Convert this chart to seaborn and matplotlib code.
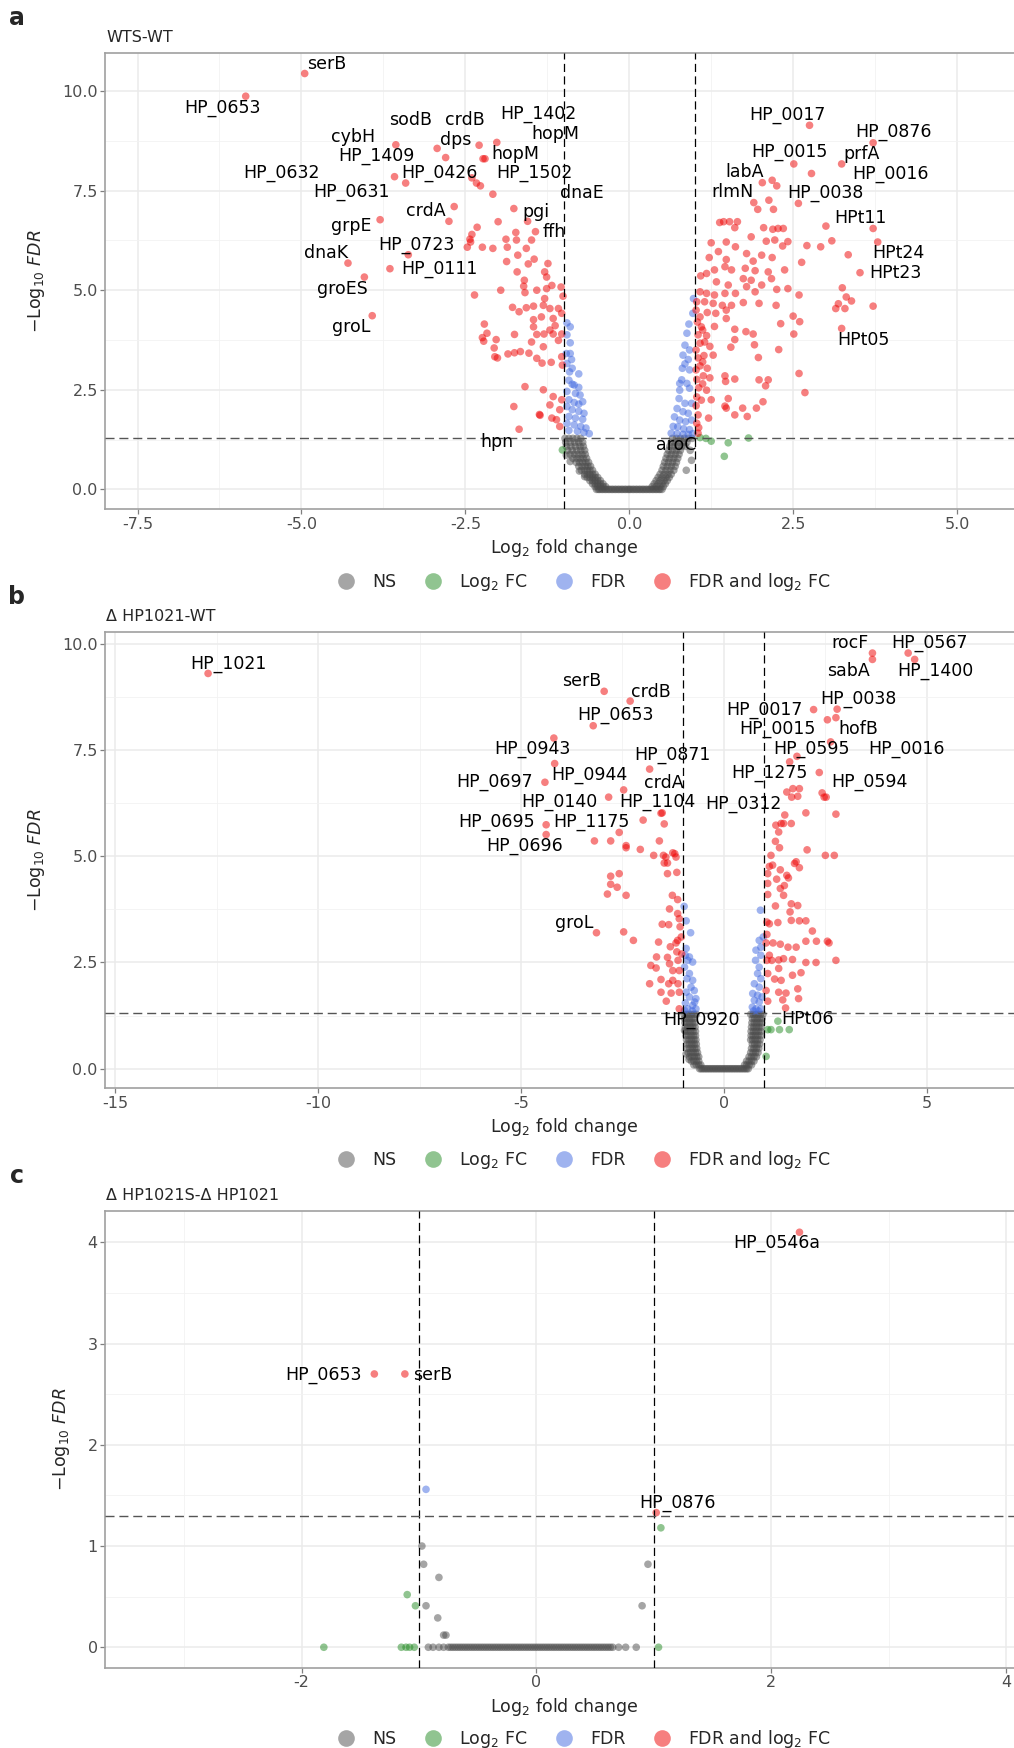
import numpy as np
import pandas as pd
import seaborn as sns
from matplotlib import pyplot as plt
from matplotlib.ticker import AutoMinorLocator

# ---------------- panel a : WTS-WT ----------------
a_ns = [
    (-0.98, 1.28), (-0.92, 1.28), (-0.86, 1.28), (-0.80, 1.28), (-0.74, 1.28),
    (-0.97, 1.18), (-0.90, 1.18), (-0.83, 1.18), (-0.77, 1.18), (-0.71, 1.18),
    (-0.96, 1.08), (-0.89, 1.08), (-0.82, 1.08), (-0.75, 1.08), (-0.70, 1.08),
    (-0.94, 0.98), (-0.87, 0.98), (-0.80, 0.98), (-0.74, 0.98), (-0.68, 0.98),
    (-0.90, 0.88), (-0.84, 0.88), (-0.78, 0.88), (-0.72, 0.88), (-0.67, 0.88),
    (-0.86, 0.78), (-0.80, 0.78), (-0.75, 0.78), (-0.70, 0.78), (-0.65, 0.78),
    (-0.81, 0.68), (-0.76, 0.68), (-0.71, 0.68), (-0.66, 0.68), (-0.62, 0.68),
    (-0.77, 0.58), (-0.72, 0.58), (-0.67, 0.58), (-0.63, 0.58), (-0.59, 0.58),
    (-0.73, 0.48), (-0.68, 0.48), (-0.64, 0.48), (-0.60, 0.48), (-0.56, 0.48),
    (-0.68, 0.38), (-0.64, 0.38), (-0.60, 0.38), (-0.56, 0.38), (-0.52, 0.38),
    (-0.64, 0.30), (-0.60, 0.30), (-0.56, 0.30), (-0.52, 0.30), (-0.48, 0.30),
    (-0.60, 0.22), (-0.56, 0.22), (-0.52, 0.22), (-0.48, 0.22), (-0.44, 0.22),
    (-0.56, 0.14), (-0.52, 0.14), (-0.48, 0.14), (-0.44, 0.14), (-0.40, 0.14),
    (-0.52, 0.07), (-0.48, 0.07), (-0.44, 0.07), (-0.40, 0.07), (-0.36, 0.07),
    (-0.96, 0.86), (-0.76, 0.46), (-0.68, 0.32), (-0.90, 0.70),
    (0.96, 1.28), (0.90, 1.28), (0.84, 1.28), (0.78, 1.28), (0.72, 1.28), (0.66, 1.28),
    (0.88, 1.18), (0.82, 1.18), (0.76, 1.18), (0.70, 1.18), (0.64, 1.18),
    (0.86, 1.08), (0.80, 1.08), (0.74, 1.08), (0.68, 1.08), (0.62, 1.08),
    (0.78, 0.98), (0.72, 0.98), (0.66, 0.98), (0.60, 0.98),
    (0.76, 0.88), (0.70, 0.88), (0.64, 0.88), (0.58, 0.88),
    (0.74, 0.78), (0.68, 0.78), (0.62, 0.78), (0.56, 0.78),
    (0.72, 0.68), (0.66, 0.68), (0.60, 0.68), (0.54, 0.68),
    (0.70, 0.58), (0.64, 0.58), (0.58, 0.58), (0.52, 0.58),
    (0.68, 0.48), (0.62, 0.48), (0.56, 0.48), (0.50, 0.48),
    (0.64, 0.38), (0.59, 0.38), (0.53, 0.38), (0.47, 0.38),
    (0.61, 0.30), (0.56, 0.30), (0.50, 0.30), (0.44, 0.30),
    (0.58, 0.22), (0.53, 0.22), (0.47, 0.22), (0.41, 0.22),
    (0.55, 0.14), (0.50, 0.14), (0.44, 0.14), (0.38, 0.14),
    (0.52, 0.07), (0.47, 0.07), (0.41, 0.07), (0.35, 0.07),
    (0.95, 0.73), (0.87, 0.48), (0.93, 0.98),
]
a_base_x = [-0.50, -0.47, -0.45, -0.42, -0.40, -0.37, -0.35, -0.32, -0.30, -0.27,
            -0.25, -0.22, -0.20, -0.17, -0.15, -0.12, -0.10, -0.07, -0.05, -0.02,
            0.00, 0.02, 0.05, 0.07, 0.10, 0.12, 0.15, 0.17, 0.20, 0.22,
            0.25, 0.27, 0.30, 0.32, 0.35, 0.37, 0.40, 0.42, 0.45, 0.47, 0.50]
a_fc = [(-1.02, 0.99), (1.08, 1.30), (1.17, 1.28), (1.25, 1.21), (1.51, 1.17),
        (1.82, 1.29), (1.45, 0.83)]
a_fdr = [
    (-0.95, 4.18), (-0.90, 4.08), (-0.95, 3.88), (-0.90, 3.68), (-0.96, 3.41),
    (-0.90, 3.41), (-0.88, 3.26), (-0.95, 3.16), (-0.87, 3.04), (-0.77, 2.90),
    (-0.91, 2.95), (-0.92, 2.74), (-0.84, 2.62), (-0.87, 2.64), (-0.77, 2.56),
    (-0.95, 2.46), (-0.82, 2.41), (-0.75, 2.37), (-0.92, 2.25), (-0.84, 2.18),
    (-0.77, 2.14), (-0.71, 2.20), (-0.95, 2.08), (-0.87, 2.00), (-0.77, 1.96),
    (-0.69, 1.91), (-0.92, 1.83), (-0.82, 1.79), (-0.71, 1.76), (-0.95, 1.66),
    (-0.84, 1.62), (-0.74, 1.58), (-0.66, 1.54), (-0.92, 1.48), (-0.79, 1.46),
    (-0.69, 1.43), (-0.61, 1.40),
    (0.98, 4.79), (0.97, 4.42), (0.91, 4.15), (0.88, 3.92), (0.85, 3.62),
    (0.92, 3.50), (0.82, 3.37), (0.90, 3.26), (0.85, 3.15), (0.81, 3.04),
    (0.92, 3.00), (0.80, 2.75), (0.88, 2.66), (0.77, 2.66), (0.77, 2.49),
    (0.92, 2.54), (0.76, 2.28), (0.85, 2.16), (0.95, 2.16), (0.73, 2.03),
    (0.82, 1.95), (0.90, 1.91), (0.69, 1.82), (0.77, 1.74), (0.86, 1.70),
    (0.95, 1.74), (0.67, 1.58), (0.74, 1.57), (0.83, 1.52), (0.92, 1.50),
    (0.64, 1.41), (0.73, 1.40), (0.82, 1.38), (0.90, 1.38), (0.97, 1.40),
]
a_both = [
    (-4.95, 10.44), (-5.85, 9.87), (-3.56, 8.65), (-2.93, 8.56), (-2.80, 8.33),
    (-2.29, 8.64), (-2.02, 8.71), (-2.23, 8.30), (-2.20, 8.30), (-3.58, 7.85),
    (-3.41, 7.69), (-2.40, 7.82), (-2.33, 7.69), (-2.27, 7.62), (-2.08, 7.41),
    (-1.76, 7.05), (-1.55, 6.73), (-1.43, 6.47), (-2.67, 7.10), (-2.75, 6.73),
    (-3.80, 6.77), (-3.37, 5.89), (-3.65, 5.54), (-4.29, 5.68), (-4.04, 5.33),
    (-3.92, 4.36),
    (-2.32, 6.58), (-2.00, 6.72), (-1.73, 6.45), (-2.40, 6.40), (-2.43, 6.28),
    (-2.47, 6.08), (-2.24, 6.08), (-2.08, 6.05), (-1.88, 6.28), (-1.72, 6.26),
    (-1.86, 6.08), (-1.70, 5.88), (-1.57, 6.05), (-1.49, 6.26), (-1.45, 5.78),
    (-1.54, 5.66), (-1.87, 5.72), (-1.71, 5.46), (-1.24, 5.67), (-1.29, 5.46),
    (-1.26, 5.33), (-1.18, 5.12), (-1.04, 5.08), (-1.60, 5.25), (-1.61, 5.10),
    (-1.41, 5.00), (-1.26, 5.04), (-1.59, 4.94), (-2.36, 4.88), (-1.01, 4.85),
    (-1.29, 4.79), (-1.78, 4.57), (-1.57, 4.56), (-1.46, 4.60), (-1.31, 4.62),
    (-1.21, 4.54), (-1.08, 4.54), (-1.03, 4.42), (-1.68, 4.46), (-1.46, 4.26),
    (-1.34, 4.33), (-1.16, 4.29), (-2.21, 4.15), (-1.46, 4.08), (-1.13, 4.11),
    (-2.17, 3.92), (-1.75, 3.89), (-1.41, 3.89), (-1.30, 3.90), (-1.16, 3.90),
    (-1.03, 3.90), (-1.21, 4.00), (-2.03, 3.76), (-1.49, 3.70), (-1.08, 3.74),
    (-1.31, 3.58), (-1.85, 3.40), (-1.75, 3.43), (-1.66, 3.46), (-1.53, 3.42),
    (-1.41, 3.29), (-1.33, 3.17), (-1.19, 3.19), (-2.01, 3.30), (-1.03, 3.33),
    (-1.02, 3.12), (-1.59, 2.58), (-1.31, 2.50), (-1.16, 2.33), (-1.03, 2.25),
    (-1.21, 2.12), (-1.76, 2.08), (-1.06, 2.00), (-1.37, 1.88), (-1.18, 1.79),
    (-1.06, 1.58), (-1.68, 1.51), (-1.11, 1.75), (-1.96, 5.00), (-2.24, 3.81),
    (-2.22, 3.72), (-2.06, 3.55), (-2.05, 3.33), (-1.36, 1.86), (-2.42, 6.21),
    (2.75, 9.14), (3.72, 8.70), (2.51, 8.17), (3.24, 8.17), (2.78, 7.93),
    (2.03, 7.70), (2.18, 7.76), (2.25, 7.62), (1.90, 7.20), (1.96, 7.03),
    (2.13, 7.26), (2.20, 7.03), (2.58, 7.18), (3.00, 6.61), (3.72, 6.55),
    (3.79, 6.21), (3.34, 5.89), (3.52, 5.44), (3.24, 4.04),
    (1.38, 6.70), (1.44, 6.72), (1.53, 6.72), (1.65, 6.72), (1.61, 6.57),
    (2.05, 6.57), (2.19, 6.53), (2.27, 6.55), (2.35, 6.55), (1.86, 6.34),
    (2.09, 6.23), (2.22, 6.26), (2.34, 6.11), (2.42, 6.22), (2.71, 6.12),
    (2.92, 6.09), (3.09, 6.24), (1.25, 6.19), (1.48, 6.21), (1.62, 6.09),
    (1.36, 5.97), (1.79, 5.92), (1.89, 5.73), (2.02, 5.88), (2.18, 5.82),
    (2.63, 5.70), (1.22, 5.82), (1.48, 5.77), (1.46, 5.59), (1.30, 5.51),
    (1.18, 5.42), (1.09, 5.36), (1.56, 5.51), (1.77, 5.55), (1.92, 5.49),
    (2.12, 5.46), (2.37, 5.51), (1.74, 5.29), (1.86, 5.25), (2.02, 5.13),
    (2.17, 5.29), (1.79, 5.09), (1.51, 5.13), (1.33, 5.21), (1.08, 4.96),
    (1.18, 4.92), (1.30, 4.88), (1.46, 4.92), (1.62, 4.92), (1.92, 4.96),
    (2.25, 5.02), (2.42, 5.04), (2.59, 4.88), (3.25, 5.06), (3.31, 4.83),
    (3.39, 4.73), (3.19, 4.66), (3.29, 4.54), (3.15, 4.54), (3.72, 4.60),
    (1.03, 4.71), (1.15, 4.71), (1.28, 4.67), (1.42, 4.62), (1.56, 4.62),
    (1.74, 4.69), (1.98, 4.67), (2.24, 4.62), (1.19, 4.44), (1.32, 4.42),
    (1.48, 4.50), (1.48, 4.29), (1.08, 4.33), (2.50, 4.35), (2.31, 4.16),
    (2.60, 4.21), (1.10, 4.08), (1.30, 4.09), (1.61, 4.02), (1.78, 3.96),
    (1.89, 3.90), (2.51, 3.90), (1.05, 3.88), (1.18, 3.86), (1.08, 3.67),
    (1.23, 3.59), (1.61, 3.76), (1.91, 3.63), (1.55, 3.57), (2.28, 3.51),
    (1.14, 3.36), (1.28, 3.37), (1.97, 3.31), (1.08, 3.10), (1.19, 3.04),
    (1.03, 2.76), (1.13, 2.85), (1.23, 2.80), (1.46, 2.85), (1.61, 2.77),
    (1.47, 2.71), (1.98, 2.75), (2.12, 2.75), (2.08, 2.60), (2.59, 2.91),
    (2.68, 2.43), (1.03, 2.32), (1.18, 2.49), (1.10, 2.24), (1.25, 2.25),
    (1.51, 2.28), (2.04, 2.20), (1.94, 2.04), (1.46, 2.09), (1.48, 2.04),
    (1.73, 2.04), (1.80, 1.83), (1.61, 1.87), (1.21, 1.79), (1.05, 1.87),
    (1.05, 1.41), (1.03, 1.66), (1.02, 4.50), (1.04, 4.20), (1.02, 3.50),
    (1.05, 3.30), (1.02, 3.00), (1.06, 2.55), (1.02, 2.10), (1.12, 4.00),
    (1.15, 3.70), (1.12, 3.20), (1.12, 2.65), (1.06, 1.55),
]
a_names = ['serB', 'HP_0653', 'sodB', 'crdB', 'HP_1402', 'hopM', 'cybH', 'dps',
           'HP_1409', 'hopM', 'HP_0632', 'HP_0426', 'HP_1502', 'HP_0631', 'dnaE',
           'crdA', 'pgi', 'grpE', 'ffh', 'HP_0723', 'dnaK', 'HP_0111', 'groES',
           'groL', 'hpn', 'aroC', 'HP_0017', 'HP_0876', 'HP_0015', 'prfA',
           'HP_0016', 'labA', 'rlmN', 'HP_0038', 'HPt11', 'HPt24', 'HPt23', 'HPt05']

# ---------------- panel b : dHP1021-WT ----------------
b_ns = [
    (-0.98, 1.28), (-0.92, 1.28), (-0.86, 1.28), (-0.80, 1.28), (-0.74, 1.28), (-0.68, 1.28),
    (-0.97, 1.18), (-0.91, 1.18), (-0.85, 1.18), (-0.79, 1.18), (-0.73, 1.18),
    (-0.96, 1.08), (-0.90, 1.08), (-0.84, 1.08), (-0.78, 1.08), (-0.72, 1.08),
    (-0.95, 0.98), (-0.89, 0.98), (-0.83, 0.98), (-0.77, 0.98), (-0.71, 0.98),
    (-0.94, 0.88), (-0.88, 0.88), (-0.82, 0.88), (-0.76, 0.88), (-0.70, 0.88),
    (-0.93, 0.78), (-0.87, 0.78), (-0.81, 0.78), (-0.75, 0.78), (-0.70, 0.78),
    (-0.92, 0.68), (-0.86, 0.68), (-0.80, 0.68), (-0.74, 0.68), (-0.69, 0.68),
    (-0.91, 0.58), (-0.85, 0.58), (-0.79, 0.58), (-0.73, 0.58), (-0.68, 0.58),
    (-0.90, 0.48), (-0.84, 0.48), (-0.78, 0.48), (-0.72, 0.48), (-0.67, 0.48),
    (-0.88, 0.38), (-0.82, 0.38), (-0.76, 0.38), (-0.70, 0.38), (-0.65, 0.38),
    (-0.85, 0.28), (-0.79, 0.28), (-0.73, 0.28), (-0.67, 0.28), (-0.62, 0.28),
    (-0.80, 0.18), (-0.74, 0.18), (-0.68, 0.18), (-0.62, 0.18),
    (-0.74, 0.09), (-0.68, 0.09), (-0.62, 0.09), (-0.57, 0.09),
    (-0.97, 0.90), (-0.93, 0.35), (-0.86, 0.22),
    (0.96, 1.28), (0.90, 1.28), (0.84, 1.28), (0.78, 1.28), (0.72, 1.28), (0.66, 1.28),
    (0.94, 1.18), (0.88, 1.18), (0.82, 1.18), (0.76, 1.18), (0.70, 1.18),
    (0.93, 1.08), (0.87, 1.08), (0.81, 1.08), (0.75, 1.08), (0.69, 1.08),
    (0.92, 0.98), (0.86, 0.98), (0.80, 0.98), (0.74, 0.98), (0.68, 0.98),
    (0.91, 0.88), (0.85, 0.88), (0.79, 0.88), (0.73, 0.88), (0.67, 0.88),
    (0.90, 0.78), (0.84, 0.78), (0.78, 0.78), (0.72, 0.78), (0.67, 0.78),
    (0.89, 0.68), (0.83, 0.68), (0.77, 0.68), (0.71, 0.68), (0.66, 0.68),
    (0.88, 0.58), (0.82, 0.58), (0.76, 0.58), (0.70, 0.58),
    (0.86, 0.48), (0.80, 0.48), (0.74, 0.48), (0.68, 0.48),
    (0.84, 0.38), (0.78, 0.38), (0.72, 0.38), (0.66, 0.38),
    (0.80, 0.28), (0.74, 0.28), (0.68, 0.28), (0.62, 0.28),
    (0.74, 0.18), (0.68, 0.18), (0.62, 0.18), (0.56, 0.18),
    (0.68, 0.09), (0.62, 0.09), (0.56, 0.09), (0.51, 0.09),
]
b_base_x = [-0.60, -0.56, -0.52, -0.48, -0.44, -0.40, -0.36, -0.32, -0.28, -0.24,
            -0.20, -0.16, -0.12, -0.08, -0.04, 0.00, 0.04, 0.08, 0.12, 0.16,
            0.20, 0.24, 0.28, 0.32, 0.36, 0.40, 0.44, 0.48, 0.52, 0.56, 0.60]
b_fc = [(1.08, 0.92), (1.16, 0.92), (1.37, 0.92), (1.61, 0.92), (1.33, 1.12), (1.04, 0.29)]
b_fdr = [
    (-0.98, 3.82), (-0.93, 3.48), (-0.82, 3.20), (-0.93, 2.83), (-0.95, 2.67),
    (-0.85, 2.63), (-0.89, 2.55), (-0.77, 2.51), (-0.97, 2.39), (-0.85, 2.24),
    (-0.91, 2.12), (-0.77, 2.08), (-0.81, 1.92), (-0.73, 1.84), (-0.93, 1.80),
    (-0.85, 1.69), (-0.69, 1.65), (-0.95, 1.55), (-0.72, 1.57), (-0.77, 1.49),
    (-0.89, 1.41), (-0.69, 1.41), (-0.97, 1.37), (-0.78, 1.36),
    (0.90, 3.73), (0.97, 3.10), (0.87, 3.02), (0.91, 2.86), (0.79, 2.79),
    (0.91, 2.67), (0.78, 2.55), (0.87, 2.39), (0.83, 2.24), (0.91, 2.12),
    (0.75, 2.00), (0.87, 1.92), (0.71, 1.77), (0.83, 1.73), (0.94, 1.69),
    (0.75, 1.61), (0.87, 1.57), (0.70, 1.45), (0.79, 1.41), (0.91, 1.41),
    (0.73, 1.36), (0.85, 1.36),
]
b_both = [
    (-12.71, 9.30), (-2.95, 8.88), (-2.31, 8.65), (-3.22, 8.07), (-4.19, 7.78),
    (-4.17, 7.18), (-4.41, 6.74), (-1.83, 7.05), (-2.47, 6.56), (-2.84, 6.39),
    (-1.55, 6.01), (-1.52, 6.02), (-1.99, 5.85), (-1.47, 5.76), (-4.38, 5.74),
    (-4.38, 5.51), (-2.58, 5.56), (-3.19, 5.36), (-2.79, 5.36), (-1.59, 5.36),
    (-2.41, 5.25), (-2.06, 5.16), (-2.41, 5.20), (-1.73, 5.02), (-1.49, 5.02),
    (-1.21, 5.06), (-1.43, 4.98), (-1.18, 4.98), (-1.26, 5.08), (-1.39, 4.84),
    (-1.47, 4.84), (-2.79, 4.53), (-2.58, 4.59), (-2.79, 4.34), (-2.63, 4.27),
    (-2.87, 4.11), (-2.41, 4.08), (-3.14, 3.20), (-2.47, 3.22), (-2.23, 3.02),
    (-1.39, 4.59), (-1.16, 4.62), (-1.27, 4.08), (-1.14, 3.98), (-1.34, 3.76),
    (-1.14, 3.65), (-1.10, 3.53), (-1.52, 3.40), (-1.36, 3.39), (-1.08, 3.34),
    (-1.61, 2.98), (-1.14, 3.02), (-1.18, 2.96), (-1.32, 2.87), (-1.16, 2.75),
    (-1.66, 2.63), (-1.39, 2.62), (-1.13, 2.55), (-1.80, 2.43), (-1.67, 2.37),
    (-1.34, 2.47), (-1.26, 2.31), (-1.10, 2.31), (-1.55, 2.10), (-1.26, 2.08),
    (-1.36, 2.00), (-1.13, 2.00), (-1.83, 2.00), (-1.55, 1.80), (-1.30, 1.78),
    (-1.10, 1.80), (-1.42, 1.59), (-1.10, 1.41), (-1.04, 2.70), (-1.05, 3.10),
    (3.66, 9.78), (3.66, 9.63), (4.54, 9.78), (4.70, 9.63), (2.21, 8.45),
    (2.79, 8.46), (2.55, 8.21), (2.76, 8.26), (2.63, 7.69), (1.80, 7.35),
    (1.62, 7.22), (2.35, 6.97), (1.55, 6.51), (1.70, 6.59), (1.86, 6.59),
    (1.82, 6.41), (1.67, 6.39), (2.42, 6.49), (2.52, 6.39), (2.47, 6.39),
    (2.02, 6.02), (2.76, 5.99), (1.50, 5.97), (1.41, 5.77), (1.47, 5.77),
    (1.66, 5.77), (1.28, 5.73), (1.35, 5.57), (1.27, 5.35), (1.37, 5.20),
    (2.05, 5.15), (2.50, 5.02), (2.72, 5.02), (1.16, 5.02), (1.78, 4.87),
    (1.74, 4.83), (1.20, 4.79), (1.12, 4.76), (1.39, 4.68), (1.08, 4.59),
    (1.55, 4.55), (1.59, 4.49), (1.30, 4.46), (1.86, 4.73), (1.08, 4.36),
    (1.49, 4.31), (1.39, 4.24), (1.08, 4.10), (1.47, 4.08), (1.66, 3.88),
    (1.82, 3.84), (1.27, 3.83), (1.63, 3.69), (1.06, 3.45), (1.12, 3.41),
    (1.33, 3.44), (1.66, 3.49), (1.86, 3.48), (2.02, 3.48), (2.18, 3.24),
    (1.06, 3.16), (1.04, 2.96), (1.21, 2.96), (1.39, 2.93), (1.58, 2.86),
    (2.02, 3.00), (2.28, 3.00), (2.55, 3.00), (2.59, 2.96), (1.78, 2.86),
    (1.12, 2.67), (1.06, 2.55), (1.18, 2.55), (1.35, 2.56), (1.47, 2.59),
    (1.69, 2.57), (2.02, 2.50), (2.27, 2.50), (2.76, 2.55), (1.35, 2.36),
    (1.08, 2.24), (1.69, 2.20), (1.90, 2.26), (1.25, 2.11), (1.41, 2.08),
    (1.82, 1.88), (1.04, 1.84), (1.35, 1.80), (1.53, 1.78), (1.45, 1.62),
    (1.84, 1.65), (1.08, 1.59), (1.52, 1.43),
]
b_names = ['HP_1021', 'rocF', 'HP_0567', 'sabA', 'HP_1400', 'serB', 'crdB',
           'HP_0653', 'HP_0038', 'HP_0017', 'HP_0015', 'hofB', 'HP_0943',
           'HP_0871', 'HP_0595', 'HP_0016', 'HP_0697', 'HP_0944', 'crdA',
           'HP_1275', 'HP_0594', 'HP_0140', 'HP_1104', 'HP_0312', 'HP_0695',
           'HP_1175', 'HP_0696', 'groL', 'HP_0920', 'HPt06']

# ---------------- panel c : dHP1021S-dHP1021 ----------------
c_ns = [(-0.975, 1.00), (-0.96, 0.82), (-0.83, 0.69), (-0.94, 0.41), (-0.84, 0.29),
        (-0.79, 0.12), (-0.77, 0.12), (0.95, 0.82), (0.90, 0.41)]
c_base_x = [-0.92, -0.88, -0.83, -0.79,
            -0.75, -0.73, -0.71, -0.69, -0.67, -0.65, -0.63, -0.61, -0.59, -0.57,
            -0.55, -0.53, -0.51, -0.49, -0.47, -0.45, -0.43, -0.41, -0.39, -0.37,
            -0.35, -0.33, -0.31, -0.29, -0.27, -0.25, -0.23, -0.21, -0.19, -0.17,
            -0.15, -0.13, -0.11, -0.09, -0.07, -0.05, -0.03, -0.01, 0.01, 0.03,
            0.05, 0.07, 0.09, 0.11, 0.13, 0.15, 0.17, 0.19, 0.21, 0.23, 0.25,
            0.27, 0.29, 0.31, 0.33, 0.35, 0.37, 0.39, 0.41, 0.43, 0.45, 0.47,
            0.49, 0.51, 0.53, 0.55, 0.57, 0.59, 0.61, 0.63, 0.65,
            0.70, 0.76, 0.85]
c_fc = [(1.06, 1.18), (-1.10, 0.52), (-1.03, 0.41), (1.04, 0.00), (-1.81, 0.00),
        (-1.15, 0.00), (-1.11, 0.00), (-1.08, 0.00), (-1.04, 0.00)]
c_fdr = [(-0.94, 1.56)]
c_both = [(2.24, 4.10), (-1.38, 2.70), (-1.12, 2.70), (1.02, 1.33)]
c_names = ['HP_0546a', 'HP_0653', 'serB', 'HP_0876']

CATS = ['NS', 'Log$_2$ FC', 'FDR', 'FDR and log$_2$ FC']
COLS = ['#4D4D4D', '#228B22', '#4169E1', '#EE0000']

# label text placement (data coords), same order as the *_names lists
a_lab_xy = [(-4.62, 10.68), (-6.20, 9.57), (-3.34, 9.28), (-2.50, 9.28), (-1.38, 9.42),
            (-1.12, 8.92), (-4.21, 8.85), (-2.65, 8.78), (-3.85, 8.37), (-1.73, 8.42),
            (-5.30, 7.94), (-2.89, 7.94), (-1.45, 7.94), (-4.23, 7.46), (-0.72, 7.43),
            (-3.10, 6.98), (-1.43, 6.97), (-4.24, 6.62), (-1.15, 6.47), (-3.24, 6.14),
            (-4.62, 5.94), (-2.89, 5.53), (-4.37, 5.03), (-4.24, 4.07), (-2.02, 1.18),
            (0.71, 1.12), (2.41, 9.40), (4.03, 8.96), (2.45, 8.47), (3.55, 8.41),
            (3.99, 7.91), (1.76, 7.98), (1.58, 7.46), (3.00, 7.43), (3.52, 6.81),
            (4.11, 5.94), (4.06, 5.43), (3.57, 3.75)]
b_lab_xy = [(-12.2, 9.53), (3.10, 10.01), (5.07, 10.01), (3.07, 9.35), (5.22, 9.35),
            (-3.51, 9.13), (-1.79, 8.87), (-2.68, 8.32), (3.31, 8.71), (0.99, 8.45),
            (1.32, 7.99), (3.30, 7.99), (-4.73, 7.52), (-1.28, 7.38), (2.15, 7.52),
            (4.49, 7.52), (-5.66, 6.74), (-3.32, 6.91), (-1.48, 6.73), (1.11, 6.95),
            (3.58, 6.74), (-4.06, 6.27), (-1.63, 6.27), (0.48, 6.22), (-5.61, 5.80),
            (-3.27, 5.80), (-4.91, 5.24), (-3.70, 3.44), (-0.56, 1.15), (2.07, 1.18)]
c_lab_xy = [(2.05, 3.99), (-1.81, 2.69), (-0.88, 2.69), (1.20, 1.43)]


def to_frame(ns, base_x, fc, fdr, both):
    rows = [(x, y, CATS[0]) for x, y in ns]
    rows += [(x, 0.0, CATS[0]) for x in base_x]
    rows += [(x, y, CATS[1]) for x, y in fc]
    rows += [(x, y, CATS[2]) for x, y in fdr]
    rows += [(x, y, CATS[3]) for x, y in both]
    return pd.DataFrame(rows, columns=['log2FC', 'mlog10FDR', 'group'])


sns.set_theme(style='white')
plt.rcParams['font.family'] = ['DejaVu Sans']
plt.rcParams['axes.unicode_minus'] = False

W, H = 1014, 1748
fig = plt.figure(figsize=(W / 100, H / 100), dpi=100)


def fx(px):
    return px / W


def fy(py):
    return 1 - py / H


def volcano(top_px, df, names, lab_xy, xlim, ylim, xt, xtl, yt, ytl, title, letter, leg_y):
    ax = fig.add_axes([fx(105.4), fy(top_px + 456.5), fx(1022.6 - 105.4), 456.5 / H])
    sns.scatterplot(data=df, x='log2FC', y='mlog10FDR', hue='group', hue_order=CATS,
                    palette=dict(zip(CATS, COLS)), s=30, alpha=0.5, linewidth=0,
                    ax=ax, zorder=2)
    ax.axvline(-1, color='black', lw=0.9, ls=(0, (6.5, 3.5)), zorder=3)
    ax.axvline(1, color='black', lw=0.9, ls=(0, (6.5, 3.5)), zorder=3)
    ax.axhline(-np.log10(0.05), color='#555555', lw=1.0, ls=(0, (6.5, 3.5)), zorder=3)
    for name, (tx, ty) in zip(names, lab_xy):
        ax.text(tx, ty, name, ha='center', va='center', fontsize=12.5, color='black', zorder=4)

    ax.set_xlim(*xlim)
    ax.set_ylim(*ylim)
    ax.set_xticks(xt)
    ax.set_xticklabels(xtl)
    ax.set_yticks(yt)
    ax.set_yticklabels(ytl)
    ax.xaxis.set_minor_locator(AutoMinorLocator(2))
    ax.yaxis.set_minor_locator(AutoMinorLocator(2))
    ax.grid(which='major', color='#EBEBEB', lw=1.1)
    ax.grid(which='minor', color='#F2F2F2', lw=0.6)
    ax.set_axisbelow(True)
    for sp in ax.spines.values():
        sp.set_color('#A0A0A0')
        sp.set_linewidth(1.2)
    ax.tick_params(which='major', length=3.5, width=0.9, color='#7F7F7F',
                   labelsize=11.5, labelcolor='#4D4D4D', pad=2, left=True, bottom=True)
    ax.tick_params(which='minor', length=0)
    ax.set_xlabel('Log$_2$ fold change', fontsize=12.5, labelpad=4)
    ax.set_ylabel(r'$-\mathrm{Log}_{10}\ \mathit{FDR}$', fontsize=12.5, labelpad=11)

    fig.text(fx(106), fy(top_px - 15), title, fontsize=11.5, ha='left', va='center')
    fig.text(fx(17), fy(top_px - 35), letter, fontsize=17, fontweight='bold',
             ha='center', va='center')

    sns.move_legend(ax, 'center', bbox_to_anchor=(fx(584), fy(leg_y)),
                    bbox_transform=fig.transFigure, ncol=4, frameon=False, title=None,
                    fontsize=12.5, handlelength=1.0, handletextpad=1.0, columnspacing=1.6)
    for h in ax.get_legend().legend_handles:
        h.set_alpha(0.5)
        h.set_markersize(12)
    return ax


volcano(52.8, to_frame(a_ns, a_base_x, a_fc, a_fdr, a_both), a_names, a_lab_xy,
        (-7.99, 6.0), (-0.5, 10.96),
        [-7.5, -5.0, -2.5, 0.0, 2.5, 5.0], ['-7.5', '-5.0', '-2.5', '0.0', '2.5', '5.0'],
        [0, 2.5, 5.0, 7.5, 10.0], ['0.0', '2.5', '5.0', '7.5', '10.0'],
        'WTS-WT', 'a', 581.7)

volcano(631.8, to_frame(b_ns, b_base_x, b_fc, b_fdr, b_both), b_names, b_lab_xy,
        (-15.24, 7.36), (-0.46, 10.28),
        [-15, -10, -5, 0, 5], ['-15', '-10', '-5', '0', '5'],
        [0, 2.5, 5.0, 7.5, 10.0], ['0.0', '2.5', '5.0', '7.5', '10.0'],
        '\u0394 HP1021-WT', 'b', 1160)

volcano(1211, to_frame(c_ns, c_base_x, c_fc, c_fdr, c_both), c_names, c_lab_xy,
        (-3.67, 4.14), (-0.2, 4.31),
        [-2, 0, 2, 4], ['-2', '0', '2', '4'],
        [0, 1, 2, 3, 4], ['0', '1', '2', '3', '4'],
        '\u0394 HP1021S-\u0394 HP1021', 'c', 1739)

fig.savefig('out.png', dpi=100)
